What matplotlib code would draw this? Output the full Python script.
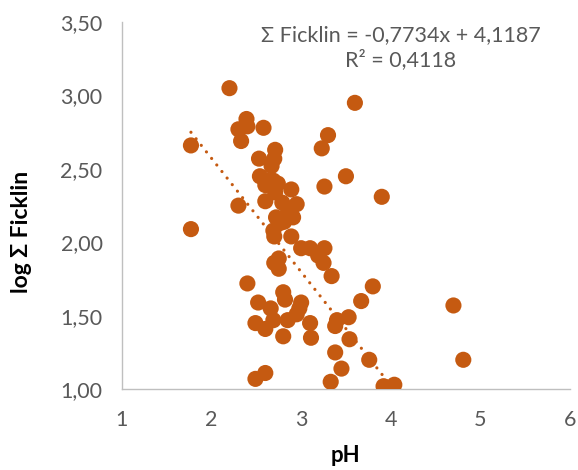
import matplotlib
matplotlib.use("Agg")
import matplotlib.pyplot as plt
from matplotlib.ticker import FuncFormatter
import numpy as np

# pH and log Σ Ficklin for each sample
ph = [2.20, 3.60, 2.39, 2.40, 2.30, 2.58, 2.33, 1.77, 3.30, 3.23,
      2.71, 2.53, 2.70, 2.67, 3.50, 2.54, 2.69, 2.60, 3.26, 2.89,
      2.71, 3.90, 2.60, 2.79, 2.95, 2.30, 2.72, 2.91, 2.81, 1.77,
      2.70, 2.89, 2.69, 3.00, 3.10, 3.26, 3.19, 3.25, 2.70, 2.75,
      2.75, 3.34, 2.40, 3.80, 2.80, 2.82, 3.67, 4.70, 2.52, 3.00,
      2.66, 2.98, 2.95, 3.53, 3.40, 2.69, 2.85, 2.49, 3.10, 3.38,
      2.60, 2.80, 3.11, 3.54, 3.38, 3.76, 4.81, 3.45, 2.60, 2.49,
      3.33, 3.92, 4.04, 2.62, 2.74, 2.76, 2.85]
log_ficklin = [3.05, 2.95, 2.84, 2.79, 2.77, 2.78, 2.69, 2.66, 2.73, 2.64,
               2.63, 2.57, 2.57, 2.52, 2.45, 2.45, 2.42, 2.39, 2.38, 2.36,
               2.34, 2.31, 2.28, 2.27, 2.26, 2.25, 2.17, 2.17, 2.14, 2.09,
               2.04, 2.04, 2.08, 1.96, 1.96, 1.96, 1.91, 1.86, 1.86, 1.89,
               1.82, 1.77, 1.72, 1.70, 1.66, 1.61, 1.60, 1.57, 1.59, 1.59,
               1.55, 1.55, 1.51, 1.49, 1.47, 1.47, 1.47, 1.45, 1.45, 1.43,
               1.41, 1.36, 1.35, 1.34, 1.25, 1.20, 1.20, 1.14, 1.11, 1.07,
               1.05, 1.02, 1.03, 2.42, 2.40, 2.13, 2.20]

# Linear trendline as reported
slope = -0.7734
intercept = 4.1187
r_squared = 0.4118

x_ticks = [1, 2, 3, 4, 5, 6]
y_ticks = [1.00, 1.50, 2.00, 2.50, 3.00, 3.50]

orange = "#C55A11"
grey_text = "#595959"
axis_grey = "#BFBFBF"

plt.rcParams['font.family'] = ['Lato', 'DejaVu Sans']

fig = plt.figure(figsize=(5.78, 4.70), dpi=100)
ax = fig.add_axes([0.211, 0.172, 0.775, 0.781])

ax.scatter(ph, log_ficklin, s=135, color=orange, edgecolors='none', zorder=3)

# dotted trendline, clipped to the plot area
tx = np.array([min(ph), max(ph)])
ax.plot(tx, slope * tx + intercept, linestyle=(0, (0.01, 2.6)), color=orange,
        linewidth=2.3, dash_capstyle='round', zorder=2)

ax.set_xlim(1, 6)
ax.set_ylim(1.0, 3.5)
ax.set_xticks(x_ticks)
ax.set_yticks(y_ticks)
ax.yaxis.set_major_formatter(FuncFormatter(lambda v, p: f"{v:.2f}".replace('.', ',')))
ax.xaxis.set_major_formatter(FuncFormatter(lambda v, p: f"{v:.0f}"))

for s in ['top', 'right']:
    ax.spines[s].set_visible(False)
for s in ['left', 'bottom']:
    ax.spines[s].set_color(axis_grey)
    ax.spines[s].set_linewidth(1.0)

ax.tick_params(axis='both', length=0, labelsize=15.5, labelcolor=grey_text)
ax.tick_params(axis='x', pad=15)
ax.tick_params(axis='y', pad=14)

ax.set_xlabel("pH", fontsize=16, fontweight='bold', labelpad=11)
ax.set_ylabel("log Σ Ficklin", fontsize=16.5, fontweight='bold')
ax.yaxis.set_label_coords(-0.20, 0.428)

eq = f"Σ Ficklin = {slope:.4f}x + {intercept:.4f}".replace('.', ',')
r2 = f"R² = {r_squared:.4f}".replace('.', ',')
ax.text(0.622, 0.93, eq + "\n" + r2, transform=ax.transAxes, ha='center',
        va='center', fontsize=15.5, color=grey_text, linespacing=1.25)

fig.savefig("out.png", dpi=100)
